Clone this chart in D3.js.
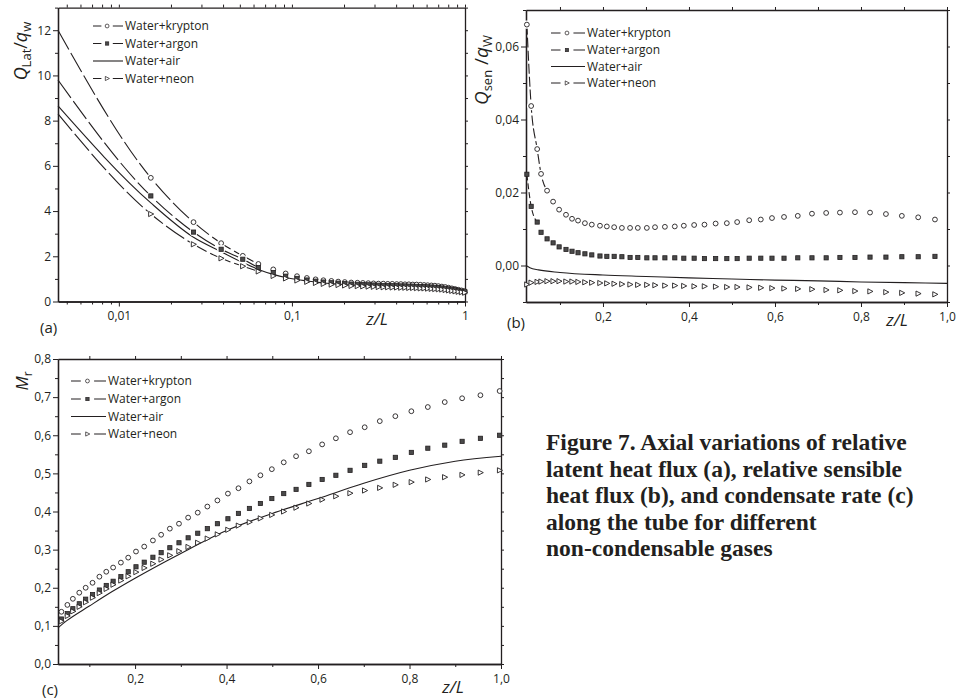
<!DOCTYPE html>
<html>
<head>
<meta charset="utf-8">
<script src="https://cdn.jsdelivr.net/npm/d3@7"></script>
<style>
  body { margin: 0; background: #fff; }
  svg text { font-family: "Open Sans", sans-serif; fill: #231f20; }
  .caption { font-family: "Liberation Serif", serif; font-weight: bold; }
</style>
</head>
<body>
<script>
var width = 957, height = 700, ink = "#231f20";

var gases = ["Water+krypton", "Water+argon", "Water+air", "Water+neon"];

// z/L of the plotted nodes in (a) and (c)
var zNodes = [0.0153, 0.027, 0.039, 0.052, 0.064, 0.078, 0.092, 0.107, 0.122, 0.137,
  0.152, 0.169, 0.185, 0.202, 0.220, 0.239, 0.257, 0.276, 0.296, 0.316,
  0.337, 0.358, 0.380, 0.403, 0.426, 0.450, 0.474, 0.499, 0.525, 0.552,
  0.580, 0.609, 0.639, 0.670, 0.702, 0.735, 0.769, 0.804, 0.840, 0.877,
  0.915, 0.955, 0.997];

// (a) Q_Lat/q_w
var aStartZ = 0.00445;
var aStart = [12.0, 9.8, 8.65, 8.3];   // krypton, argon, air, neon at left edge
var aKrypton = [5.47, 3.51, 2.58, 2.02, 1.66, 1.42, 1.24, 1.12, 1.04, 0.98, 0.94, 0.91, 0.88, 0.86, 0.84,
  0.83, 0.82, 0.81, 0.80, 0.79, 0.79, 0.78, 0.78, 0.77, 0.77, 0.76, 0.76, 0.75, 0.75, 0.74,
  0.73, 0.72, 0.71, 0.70, 0.68, 0.66, 0.64, 0.61, 0.58, 0.55, 0.52, 0.49, 0.46];
var aArgon = [4.67, 3.07, 2.31, 1.87, 1.50, 1.28, 1.12, 1.02, 0.95, 0.90, 0.86, 0.83, 0.81, 0.79, 0.77,
  0.76, 0.75, 0.74, 0.73, 0.72, 0.71, 0.71, 0.70, 0.70, 0.69, 0.69, 0.68, 0.68, 0.67, 0.66,
  0.66, 0.65, 0.64, 0.63, 0.62, 0.60, 0.58, 0.56, 0.54, 0.52, 0.49, 0.46, 0.43];
var aAir = [4.36, 2.84, 2.20, 1.72, 1.42, 1.20, 1.06, 0.97, 0.91, 0.86, 0.82, 0.79, 0.77, 0.75, 0.73,
  0.72, 0.71, 0.70, 0.69, 0.68, 0.67, 0.67, 0.66, 0.66, 0.65, 0.65, 0.64, 0.64, 0.63, 0.62,
  0.62, 0.61, 0.60, 0.59, 0.58, 0.56, 0.55, 0.53, 0.51, 0.49, 0.47, 0.45, 0.43];
var aNeon = [3.87, 2.53, 1.91, 1.56, 1.33, 1.13, 1.02, 0.93, 0.87, 0.82, 0.78, 0.75, 0.73, 0.71, 0.69,
  0.68, 0.67, 0.66, 0.65, 0.64, 0.63, 0.63, 0.62, 0.62, 0.61, 0.61, 0.60, 0.60, 0.59, 0.58,
  0.58, 0.57, 0.56, 0.55, 0.54, 0.53, 0.51, 0.49, 0.47, 0.45, 0.43, 0.41, 0.39];

// (b) Q_sen/q_W
var zNodesB = [0.023, 0.033, 0.047, 0.056, 0.070, 0.084, 0.098, 0.114, 0.128, 0.142,
  0.158, 0.174, 0.193, 0.209, 0.226, 0.244, 0.263, 0.281, 0.302, 0.321,
  0.344, 0.367, 0.388, 0.412, 0.436, 0.462, 0.488, 0.512, 0.540, 0.567,
  0.593, 0.621, 0.653, 0.686, 0.719, 0.751, 0.786, 0.821, 0.858, 0.895,
  0.933, 0.972];
var bKrypton = [0.0660, 0.0437, 0.0319, 0.0251, 0.0205, 0.0175, 0.0153, 0.0139, 0.0128, 0.0123,
  0.0116, 0.0112, 0.0109, 0.0107, 0.0105, 0.0103, 0.0103, 0.0103, 0.0103, 0.0105,
  0.0106, 0.0107, 0.0109, 0.0111, 0.0112, 0.0115, 0.0116, 0.0119, 0.0124, 0.0126,
  0.0130, 0.0133, 0.0136, 0.0142, 0.0144, 0.0145, 0.0146, 0.0145, 0.0141, 0.0136,
  0.0132, 0.0126];
var bArgon = [0.0250, 0.0162, 0.0119, 0.0091, 0.0073, 0.0062, 0.0051, 0.0044, 0.0039, 0.0035,
  0.0032, 0.0029, 0.0026, 0.0025, 0.0025, 0.0024, 0.0022, 0.0022, 0.0021, 0.0021,
  0.0021, 0.0021, 0.0020, 0.0020, 0.0019, 0.0019, 0.0019, 0.0019, 0.0020, 0.0020,
  0.0020, 0.0020, 0.0021, 0.0021, 0.0021, 0.0022, 0.0022, 0.0023, 0.0023, 0.0024,
  0.0024, 0.0025];
var bNeon = [-0.0052, -0.0047, -0.0045, -0.0044, -0.0043, -0.0043, -0.0043, -0.0044, -0.0044, -0.0045,
  -0.0046, -0.0047, -0.0048, -0.0049, -0.0050, -0.0051, -0.0052, -0.0053, -0.0053, -0.0054,
  -0.0055, -0.0055, -0.0056, -0.0057, -0.0057, -0.0058, -0.0059, -0.0059, -0.0060, -0.0061,
  -0.0062, -0.0063, -0.0064, -0.0065, -0.0067, -0.0068, -0.0070, -0.0071, -0.0073, -0.0075,
  -0.0077, -0.0079];
var bAirZ = [0.021, 0.03, 0.05, 0.1, 0.2, 0.3, 0.4, 0.5, 0.6, 0.7, 0.8, 0.9, 1.0];
var bAir = [0.0000, -0.0006, -0.0012, -0.0019, -0.0026, -0.0030, -0.0034, -0.0037, -0.0040, -0.0042, -0.0045, -0.0047, -0.0049];

// (c) M_r  (nodes from zNodes[2] on)
var cKrypton = [0.137, 0.155, 0.171, 0.187, 0.200, 0.213, 0.229, 0.242, 0.253, 0.266,
  0.279, 0.295, 0.308, 0.324, 0.339, 0.355, 0.368, 0.384, 0.397, 0.413,
  0.429, 0.447, 0.461, 0.479, 0.495, 0.511, 0.529, 0.545, 0.558, 0.576,
  0.592, 0.608, 0.621, 0.637, 0.650, 0.663, 0.674, 0.687, 0.697, 0.705, 0.716];
var cArgon = [0.118, 0.132, 0.145, 0.158, 0.170, 0.182, 0.194, 0.206, 0.217, 0.229,
  0.242, 0.255, 0.267, 0.280, 0.292, 0.305, 0.318, 0.331, 0.343, 0.355,
  0.368, 0.381, 0.395, 0.408, 0.421, 0.434, 0.447, 0.458, 0.471, 0.484,
  0.495, 0.508, 0.521, 0.532, 0.542, 0.555, 0.566, 0.574, 0.584, 0.592, 0.600];
var cNeon = [0.112, 0.126, 0.138, 0.150, 0.162, 0.174, 0.186, 0.197, 0.208, 0.219,
  0.230, 0.241, 0.252, 0.263, 0.274, 0.285, 0.296, 0.307, 0.318, 0.329,
  0.340, 0.352, 0.363, 0.372, 0.382, 0.391, 0.400, 0.410, 0.421, 0.431,
  0.440, 0.448, 0.455, 0.462, 0.470, 0.477, 0.484, 0.490, 0.496, 0.502, 0.508];
var cAirZ = [0.0315, 0.05, 0.1, 0.15, 0.2, 0.3, 0.4, 0.5, 0.6, 0.7, 0.8, 0.9, 1.0];
var cAir = [0.095, 0.113, 0.152, 0.190, 0.225, 0.290, 0.350, 0.395, 0.434, 0.474, 0.508, 0.532, 0.545];

// ticks
var aXMajor = [0.01, 0.1, 1], aXMinor = [0.005, 0.006, 0.007, 0.008, 0.009, 0.02, 0.03, 0.04, 0.05, 0.06, 0.07, 0.08, 0.09, 0.2, 0.3, 0.4, 0.5, 0.6, 0.7, 0.8, 0.9];
var aYMajor = [0, 2, 4, 6, 8, 10, 12], aYMinor = [1, 3, 5, 7, 9, 11, 13];
var bXMajor = [0.2, 0.4, 0.6, 0.8, 1.0], bXMinor = [0.1, 0.3, 0.5, 0.7, 0.9];
var bYMajor = [0, 0.02, 0.04, 0.06], bYMinor = [-0.01, 0.01, 0.03, 0.05, 0.07];
var cXMajor = [0.2, 0.4, 0.6, 0.8, 1.0], cXMinor = [0.1, 0.3, 0.5, 0.7, 0.9];
var cYMajor = [0, 0.1, 0.2, 0.3, 0.4, 0.5, 0.6, 0.7, 0.8], cYMinor = [0.05, 0.15, 0.25, 0.35, 0.45, 0.55, 0.65, 0.75];

var captionLines = ["Figure 7. Axial variations of relative", "latent heat flux (a), relative sensible",
  "heat flux (b), and condensate rate (c)", "along the tube for different", "non-condensable gases"];

var svg = d3.select("body").append("svg")
  .attr("width", width)
  .attr("height", height);

function comma(f) { return function (d) { return f(d).replace(".", ","); }; }

function marker(sel, kind) {
  if (kind == "circle") sel.append("circle").attr("r", 2.4).attr("fill", "#fff").attr("stroke", ink).attr("stroke-width", 0.9);
  if (kind == "square") sel.append("rect").attr("x", -2.1).attr("y", -2.1).attr("width", 4.2).attr("height", 4.2)
    .attr("fill", "#4a4a4a").attr("stroke", ink).attr("stroke-width", 0.8);
  if (kind == "tri") sel.append("path").attr("d", "M-2.2,-2.6L2.9,0L-2.2,2.6Z").attr("fill", "#fff").attr("stroke", ink).attr("stroke-width", 0.9);
}

function axis(gen, tx, ty, size, vals, fmt, pad) {
  var g = svg.append("g").attr("transform", "translate(" + tx + "," + ty + ")")
    .call(gen.tickValues(vals).tickSize(size).tickSizeOuter(0).tickPadding(pad || 3).tickFormat(fmt || ""));
  g.attr("font-family", null).attr("font-size", null);
  g.select(".domain").attr("stroke", ink).attr("stroke-width", 1.3);
  g.selectAll(".tick line").attr("stroke", ink).attr("stroke-width", 1);
  g.selectAll(".tick text").style("font-size", "12px");
  return g;
}

function frame(x, y, t) {
  var x0 = x.range()[0], x1 = x.range()[1], y0 = y.range()[0], y1 = y.range()[1];
  axis(d3.axisTop(x), 0, y1, 3, t.xTop);
  axis(d3.axisRight(y), x1, 0, 3, t.yRight);
  axis(d3.axisBottom(x), 0, y0, 3, t.xMinor);
  axis(d3.axisLeft(y), x0, 0, 3, t.yMinor);
  axis(d3.axisBottom(x), 0, y0, 5, t.xMajor, t.xFmt, 5);
  axis(d3.axisLeft(y), x0, 0, 5, t.yMajor, t.yFmt, 2);
}

function curve(x, y, pts, dash) {
  svg.append("path")
    .attr("d", d3.line().x(d => x(d[0])).y(d => y(d[1])).curve(d3.curveMonotoneX)(pts))
    .attr("fill", "none").attr("stroke", ink).attr("stroke-width", 1.1)
    .attr("stroke-dasharray", dash || null);
}

function points(x, y, pts, kind, halo) {
  if (halo) svg.append("g").selectAll("circle").data(pts.slice(0, halo)).join("circle")
    .attr("cx", d => x(d[0])).attr("cy", d => y(d[1])).attr("r", 4.2).attr("fill", "#fff");
  svg.append("g").selectAll("g").data(pts).join("g")
    .attr("transform", d => "translate(" + x(d[0]) + "," + y(d[1]) + ")")
    .each(function () { marker(d3.select(this), kind); });
}

function legend(x0, x1, rows) {
  var kinds = ["circle", "square", null, "tri"], w = x1 - x0;
  gases.forEach(function (name, i) {
    var yy = rows[i];
    if (kinds[i]) {
      svg.append("line").attr("x1", x0).attr("x2", x0 + w * 0.28).attr("y1", yy).attr("y2", yy).attr("stroke", ink);
      svg.append("line").attr("x1", x0 + w * 0.66).attr("x2", x1).attr("y1", yy).attr("y2", yy).attr("stroke", ink);
      var m = svg.append("g").attr("transform", "translate(" + (x0 + w * 0.47) + "," + yy + ") scale(0.8)");
      marker(m, kinds[i]);
    } else {
      svg.append("line").attr("x1", x0).attr("x2", x1).attr("y1", yy).attr("y2", yy).attr("stroke", ink).attr("stroke-width", 1.1);
    }
    svg.append("text").attr("x", x1 + 2).attr("y", yy + 4.3).style("font-size", "12px").text(name);
  });
}

function yTitle(x, yc, parts) {
  var t = svg.append("text").attr("transform", "translate(" + x + "," + yc + ") rotate(-90)").attr("text-anchor", "middle");
  parts.forEach(function (p) {
    t.append("tspan").text(p[0]).style("font-size", p[1] + "px")
      .style("font-style", p[2] ? "italic" : "normal").attr("dy", p[3] || 0);
  });
}

function plainText(x, y, s, size, italic, anchor) {
  svg.append("text").attr("x", x).attr("y", y).attr("text-anchor", anchor || "start")
    .style("font-size", size + "px").style("font-style", italic ? "italic" : "normal").text(s);
}

function zip(zs, vs) { return vs.map(function (v, i) { return [zs[i], v]; }); }

// ---------- (a)
var xA = d3.scaleLog().domain([aStartZ, 1]).range([58, 465]);
var yA = d3.scaleLinear().domain([0, 13]).range([301.5, 7.6]);
frame(xA, yA, {
  xMajor: aXMajor, xMinor: aXMinor, xTop: aXMajor.concat(aXMinor), xFmt: d => d == 1 ? "1" : String(d).replace(".", ","),
  yMajor: aYMajor, yMinor: aYMinor, yRight: d3.range(0, 14), yFmt: d => d
});
var aSets = [aKrypton, aArgon, aAir, aNeon], aKinds = ["circle", "square", null, "tri"];
aSets.forEach(function (vals, i) {
  var pts = zip(zNodes, vals);
  if (i == 2) curve(xA, yA, [[aStartZ, aStart[i]]].concat(pts));
  else {
    curve(xA, yA, [[aStartZ, aStart[i]]].concat(pts.slice(0, 5)), "22,4");
  }
});
aSets.forEach(function (vals, i) {
  if (aKinds[i]) points(xA, yA, zip(zNodes, vals), aKinds[i], 4);
});
legend(93, 123, [26, 43.5, 61, 78.5]);
yTitle(27, 51, [["Q", 18, true], ["Lat", 13, false, 4], ["/", 18, false, -4], ["q", 18, true], ["w", 13, false, 4]]);
plainText(377, 325, "z/L", 17, true, "middle");
plainText(40, 333, "(a)", 15);

// ---------- (b)
var xB = d3.scaleLinear().domain([0.021, 1]).range([526, 947]);
var yB = d3.scaleLinear().domain([-0.01, 0.07]).range([302, 10]);
frame(xB, yB, {
  xMajor: bXMajor, xMinor: bXMinor, xTop: bXMajor.concat(bXMinor), xFmt: comma(d3.format(".1f")),
  yMajor: bYMajor, yMinor: bYMinor, yRight: bYMajor.concat(bYMinor), yFmt: comma(d3.format(".2f"))
});
curve(xB, yB, zip(bAirZ, bAir));
curve(xB, yB, zip(zNodesB, bKrypton).slice(0, 5), "10,3");
curve(xB, yB, zip(zNodesB, bArgon).slice(0, 3), "6,3");
points(xB, yB, zip(zNodesB, bKrypton), "circle", 5);
points(xB, yB, zip(zNodesB, bArgon), "square");
points(xB, yB, zip(zNodesB, bNeon), "tri");
legend(551, 585, [33, 50, 66.5, 83]);
yTitle(488, 70, [["Q", 19, true], ["sen", 13, false, 4], [" /", 19, false, -4], ["q", 19, true], ["W", 13, false, 4]]);
plainText(897, 326, "z/L", 17, true, "middle");
plainText(507, 328, "(b)", 15);

// ---------- (c)
var xC = d3.scaleLinear().domain([0.0315, 1]).range([58, 501]);
var yC = d3.scaleLinear().domain([0, 0.8]).range([664, 359]);
frame(xC, yC, {
  xMajor: cXMajor, xMinor: cXMinor, xTop: cXMajor.concat(cXMinor), xFmt: comma(d3.format(".1f")),
  yMajor: cYMajor, yMinor: cYMinor, yRight: cYMajor.concat(cYMinor), yFmt: comma(d3.format(".1f"))
});
var cZ = zNodes.slice(2);
curve(xC, yC, zip(cAirZ, cAir));
points(xC, yC, zip(cZ, cKrypton), "circle");
points(xC, yC, zip(cZ, cArgon), "square");
points(xC, yC, zip(cZ, cNeon), "tri");
legend(71, 106, [381, 399, 416.5, 434]);
yTitle(28, 381, [["M", 17, true], ["r", 12, false, 4]]);
plainText(453, 693, "z/L", 17, true, "middle");
plainText(42, 695, "(c)", 15);

// ---------- caption
captionLines.forEach(function (s, i) {
  svg.append("text").attr("class", "caption").attr("x", 546).attr("y", 450 + i * 26.5)
    .style("font-size", "23.5px").text(s);
});
</script>
</body>
</html>
